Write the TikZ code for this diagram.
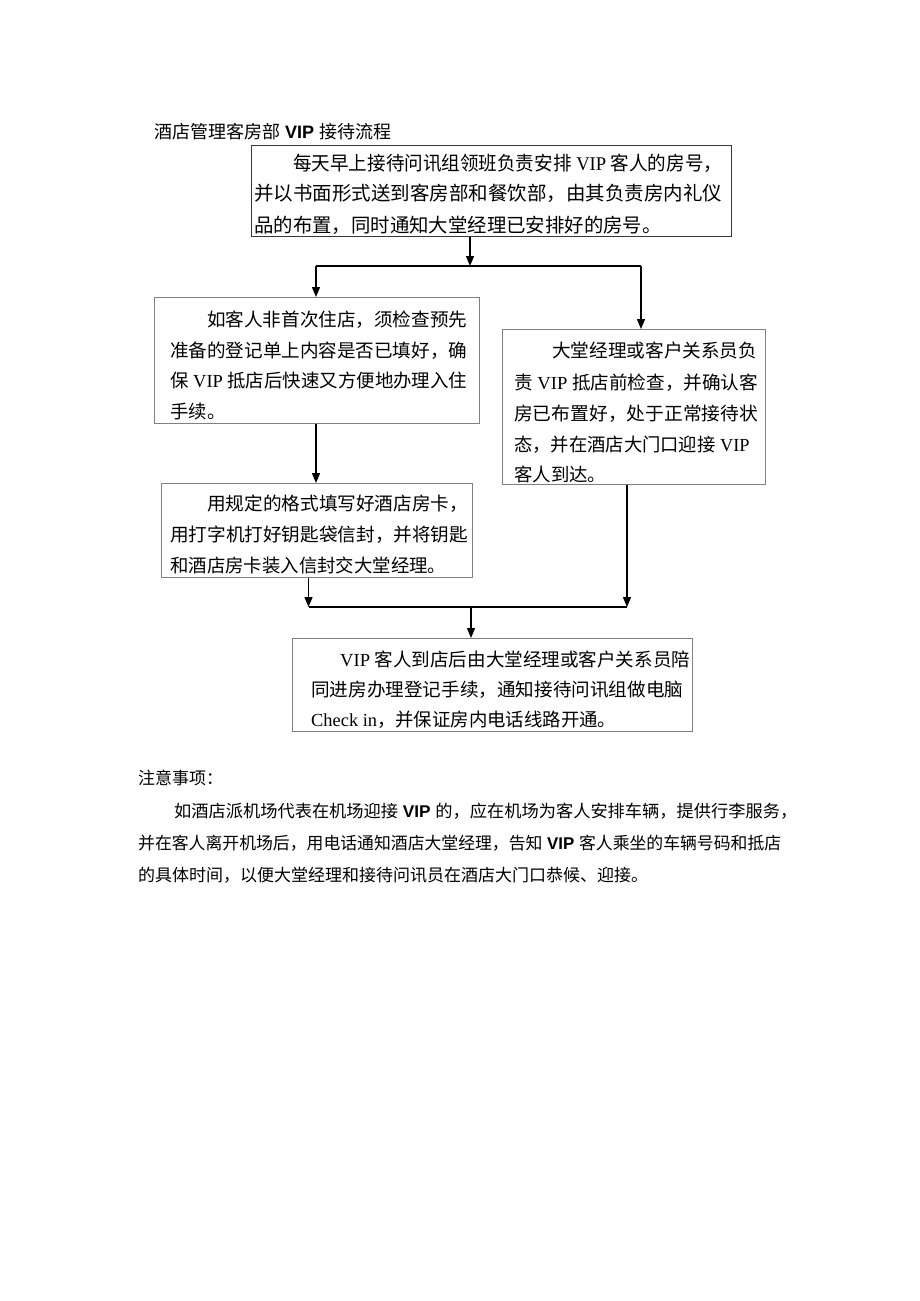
\documentclass[tikz,border=0pt]{standalone}
\usepackage{fontspec}
\usepackage{graphicx}
\setmainfont{Liberation Serif}
\newfontfamily\cjk{Noto Sans CJK SC}
\newfontfamily\lat{Liberation Serif}
\newfontfamily\arl{Liberation Sans}
\usetikzlibrary{arrows.meta}
\newcommand{\fitw}[2]{\resizebox{#1pt}{\height}{#2}}
\newcommand{\V}{{\lat\ VIP\ }}
\newcommand{\VB}{{\arl\bfseries\ VIP\ }}
\begin{document}
\begin{tikzpicture}[x=1pt,y=-1pt,
  box/.style={draw=black!50, line width=1.3pt, inner sep=0pt, anchor=north west},
  boxdark/.style={box, draw=black!78},
  bt/.style={inner sep=0pt, anchor=base west, font=\cjk\fontsize{18.4}{22}\selectfont},
  btl/.style={inner sep=0pt, anchor=base west, font=\cjk\fontsize{19.4}{22}\selectfont},
  nt/.style={inner sep=0pt, anchor=base west, font=\cjk\fontsize{17}{22}\selectfont},
  tt/.style={inner sep=0pt, anchor=base west, font=\cjk\fontsize{18}{22}\selectfont},
  conn/.style={line width=1.4pt, draw=black},
  arr/.style={conn, -{Triangle[length=10pt,width=8pt]}}]
\useasboundingbox (0,0) rectangle (920,1301);
\fill[white] (0,0) rectangle (920,1301);

% title
\node[tt] (title) at (154,138.5) {酒店管理客房部\VB 接待流程};

% boxes
\node[boxdark, minimum width=480pt, minimum height=91pt] (b1) at (251,145) {};
\node[box, minimum width=325pt, minimum height=126pt] (bA) at (154,297) {};
\node[box, minimum width=263pt, minimum height=155pt] (bB) at (502,329) {};
\node[box, minimum width=311pt, minimum height=94pt] (bC) at (161,483) {};
\node[box, minimum width=400pt, minimum height=93pt] (bD) at (292,638) {};

% box 1 text
\node[btl] (t11) at (293,170.7) {\fitw{429}{每天早上接待问讯组领班负责安排\V 客人的房号，}};
\node[btl] (t12) at (254,200.7) {\fitw{468}{并以书面形式送到客房部和餐饮部，由其负责房内礼仪}};
\node[btl] (t13) at (254,232.4) {品的布置，同时通知大堂经理已安排好的房号。};

% box A text
\node[bt] (tA1) at (207,326) {\fitw{260}{如客人非首次住店，须检查预先}};
\node[bt] (tA2) at (170,357) {\fitw{297}{准备的登记单上内容是否已填好，确}};
\node[bt] (tA3) at (170,387) {\fitw{297}{保\V 抵店后快速又方便地办理入住}};
\node[bt] (tA4) at (170,418) {手续。};

% box B text
\node[bt] (tB1) at (552,357) {\fitw{205}{大堂经理或客户关系员负}};
\node[bt] (tB2) at (514,389) {\fitw{244}{责\V 抵店前检查，并确认客}};
\node[bt] (tB3) at (514,420.5) {\fitw{244}{房已布置好，处于正常接待状}};
\node[bt] (tB4) at (514,451) {\fitw{240}{态，并在酒店大门口迎接\V}};
\node[bt] (tB5) at (514,481.5) {客人到达。};

% box C text
\node[bt] (tC1) at (207,510) {\fitw{261}{用规定的格式填写好酒店房卡，}};
\node[bt] (tC2) at (170,541) {\fitw{298}{用打字机打好钥匙袋信封，并将钥匙}};
\node[bt] (tC3) at (170,572) {和酒店房卡装入信封交大堂经理。};

% box D text
\node[bt] (tD1) at (340,666) {\fitw{350}{{\lat VIP\ }客人到店后由大堂经理或客户关系员陪}};
\node[bt] (tD2) at (311,696) {\fitw{372}{同进房办理登记手续，通知接待问讯组做电脑}};
\node[bt] (tD3) at (311,726) {{\lat Check in}，并保证房内电话线路开通。};

% connectors
\coordinate (j1) at (470,266);
\coordinate (jL) at (316,266);
\coordinate (jR) at (641,266);
\coordinate (k1) at (308.5,607);
\coordinate (k2) at (627,607);
\coordinate (km) at (471,607);
\draw[arr] (j1 |- b1.south) -- (j1);
\draw[conn] (jL) -- (jR);
\draw[arr] (jL) -- (jL |- bA.north);
\draw[arr] (jR) -- (jR |- bB.north);
\draw[arr] (jL |- bA.south) -- (jL |- bC.north);
\draw[arr] (k1 |- bC.south) -- (k1);
\draw[arr] (k2 |- bB.south) -- (k2);
\draw[conn] (k1) -- (k2);
\draw[arr] (km) -- (km |- bD.north);

% notes
\node[nt] (n0) at (138,784.5) {注意事项：};
\node[nt] (n1) at (174,817.5) {\fitw{623}{如酒店派机场代表在机场迎接\VB 的，应在机场为客人安排车辆，提供行李服务，}};
\node[nt] (n2) at (138,849.5) {\fitw{643}{并在客人离开机场后，用电话通知酒店大堂经理，告知\VB 客人乘坐的车辆号码和抵店}};
\node[nt] (n3) at (138,881.5) {的具体时间，以便大堂经理和接待问讯员在酒店大门口恭候、迎接。};
\end{tikzpicture}
\end{document}
